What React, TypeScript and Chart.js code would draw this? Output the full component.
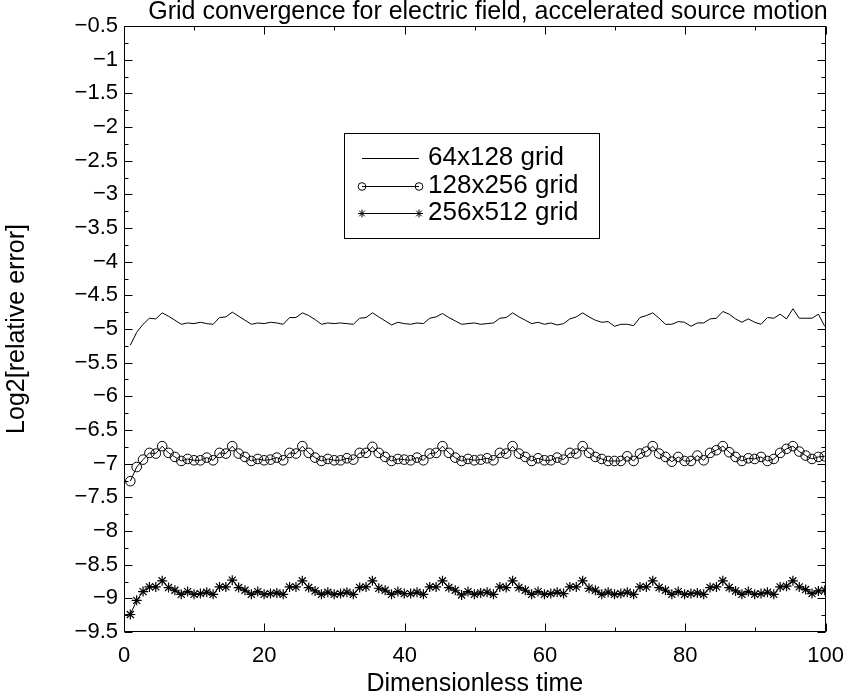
import React, { useEffect, useRef } from 'react';
import { Chart, registerables } from 'chart.js';

Chart.register(...registerables);

const TITLE = 'Grid convergence for electric field, accelerated source motion';
const X_LABEL = 'Dimensionless time';
const Y_LABEL = 'Log2[relative error]';
const SERIES_NAMES = ['64x128 grid', '128x256 grid', '256x512 grid'];

// sample times: uniform output grid of the simulation
const TIME_START = 0.9;
const TIME_STEP = 0.908;

const grid64 = [
  -5.24, -5.05, -4.93, -4.84, -4.85,
  -4.76, -4.81, -4.87, -4.93, -4.91, -4.92, -4.90, -4.92, -4.93, -4.83, -4.82,
  -4.75, -4.81, -4.87, -4.93, -4.91, -4.92, -4.90, -4.91, -4.93, -4.83, -4.83,
  -4.76, -4.80, -4.86, -4.93, -4.91, -4.92, -4.91, -4.92, -4.93, -4.84, -4.83,
  -4.76, -4.82, -4.88, -4.94, -4.90, -4.92, -4.93, -4.91, -4.92, -4.84, -4.82,
  -4.77, -4.83, -4.88, -4.93, -4.92, -4.91, -4.93, -4.92, -4.91, -4.84, -4.83,
  -4.76, -4.82, -4.87, -4.92, -4.90, -4.93, -4.91, -4.94, -4.92, -4.85, -4.82,
  -4.76, -4.82, -4.87, -4.90, -4.89, -4.96, -4.93, -4.93, -4.95, -4.83, -4.80,
  -4.76, -4.84, -4.93, -4.93, -4.89, -4.90, -4.96, -4.91, -4.91, -4.85, -4.84,
  -4.74, -4.78, -4.85, -4.90, -4.85, -4.90, -4.93, -4.83, -4.84, -4.78, -4.85,
  -4.70,
  -4.84, -4.84, -4.84, -4.78, -4.96,
];

const grid128 = [
  -7.26, -7.05, -6.94, -6.84, -6.85,
  -6.74, -6.84, -6.90, -6.96, -6.93, -6.95, -6.95, -6.91, -6.95, -6.84, -6.85,
  -6.74, -6.85, -6.90, -6.96, -6.93, -6.95, -6.94, -6.91, -6.95, -6.84, -6.85,
  -6.74, -6.84, -6.91, -6.96, -6.93, -6.95, -6.95, -6.92, -6.94, -6.84, -6.84,
  -6.75, -6.84, -6.90, -6.96, -6.93, -6.94, -6.95, -6.91, -6.95, -6.85, -6.84,
  -6.74, -6.84, -6.91, -6.96, -6.93, -6.95, -6.94, -6.92, -6.95, -6.84, -6.85,
  -6.74, -6.85, -6.90, -6.96, -6.92, -6.95, -6.95, -6.91, -6.94, -6.84, -6.85,
  -6.74, -6.84, -6.90, -6.93, -6.96, -6.96, -6.96, -6.89, -6.96, -6.85, -6.82,
  -6.74, -6.85, -6.90, -6.97, -6.90, -6.96, -6.96, -6.88, -6.95, -6.84, -6.80,
  -6.74, -6.83, -6.90, -6.96, -6.92, -6.93, -6.90, -6.96, -6.93, -6.84, -6.78,
  -6.74,
  -6.82, -6.88, -6.93, -6.90, -6.89,
];

const grid256 = [
  -9.24, -9.03, -8.90, -8.83, -8.83,
  -8.74, -8.84, -8.88, -8.94, -8.90, -8.94, -8.93, -8.91, -8.94, -8.83, -8.83,
  -8.73, -8.84, -8.88, -8.94, -8.90, -8.94, -8.93, -8.92, -8.94, -8.83, -8.83,
  -8.74, -8.84, -8.89, -8.94, -8.91, -8.94, -8.93, -8.91, -8.94, -8.84, -8.83,
  -8.74, -8.85, -8.88, -8.94, -8.90, -8.93, -8.93, -8.91, -8.94, -8.83, -8.83,
  -8.74, -8.84, -8.88, -8.95, -8.90, -8.94, -8.92, -8.91, -8.94, -8.83, -8.84,
  -8.74, -8.84, -8.88, -8.94, -8.90, -8.94, -8.93, -8.91, -8.93, -8.83, -8.83,
  -8.74, -8.85, -8.88, -8.94, -8.91, -8.94, -8.93, -8.91, -8.94, -8.83, -8.83,
  -8.74, -8.84, -8.88, -8.94, -8.90, -8.94, -8.93, -8.92, -8.94, -8.84, -8.83,
  -8.74, -8.84, -8.89, -8.94, -8.90, -8.94, -8.93, -8.91, -8.94, -8.83, -8.82,
  -8.74,
  -8.83, -8.87, -8.93, -8.89, -8.88,
];

const X_MIN = 0;
const X_MAX = 100;
const X_MAJOR = 20;
const X_MINOR = 10;
const Y_MIN = -9.5;
const Y_MAX = -0.5;
const Y_MAJOR = 0.5;
const Y_MINOR = 0.25;

const FONT = '"Liberation Sans", Arial, Helvetica, sans-serif';
const TICK_SIZE = 22;
const LABEL_SIZE = 25;
const LEGEND_SIZE = 26;

const toPoints = (vals: number[]) =>
  vals.map((v, i) => ({ x: TIME_START + i * TIME_STEP, y: v }));

const fmt = (v: number) => {
  const r = Math.round(v * 100) / 100;
  return (r < 0 ? '\u2212' : '') + String(Math.abs(r));
};

function drawMarker(ctx: CanvasRenderingContext2D, style: string, x: number, y: number, r: number) {
  if (style === 'circle') {
    ctx.beginPath();
    ctx.arc(x, y, r, 0, Math.PI * 2);
    ctx.stroke();
  } else if (style === 'star') {
    const d = r * Math.SQRT1_2;
    ctx.beginPath();
    ctx.moveTo(x, y - r); ctx.lineTo(x, y + r);
    ctx.moveTo(x - r, y); ctx.lineTo(x + r, y);
    ctx.moveTo(x - d, y - d); ctx.lineTo(x + d, y + d);
    ctx.moveTo(x - d, y + d); ctx.lineTo(x + d, y - d);
    ctx.stroke();
  }
}

const framePlugin = {
  id: 'frameTicksTitleLegend',
  afterDraw(chart: any) {
    const ctx: CanvasRenderingContext2D = chart.ctx;
    const { left, right, top, bottom } = chart.chartArea;
    const xs = chart.scales.x;
    const ys = chart.scales.y;
    ctx.save();
    ctx.strokeStyle = '#000';
    ctx.lineWidth = 1;
    const L = Math.round(left) + 0.5;
    const R = Math.round(right) - 0.5;
    const T = Math.round(top) + 0.5;
    const B = Math.round(bottom) - 0.5;
    ctx.strokeRect(L, T, R - L, B - T);
    ctx.beginPath();
    const ny = Math.round((Y_MAX - Y_MIN) / Y_MINOR);
    for (let i = 0; i <= ny; i++) {
      const v = Y_MIN + i * Y_MINOR;
      const major = Math.abs(v / Y_MAJOR - Math.round(v / Y_MAJOR)) < 1e-6;
      const len = major ? 8 : 4;
      const py = Math.round(ys.getPixelForValue(v)) + 0.5;
      ctx.moveTo(L, py); ctx.lineTo(L + len, py);
      ctx.moveTo(R, py); ctx.lineTo(R - len, py);
    }
    const nx = Math.round((X_MAX - X_MIN) / X_MINOR);
    for (let i = 0; i <= nx; i++) {
      const v = X_MIN + i * X_MINOR;
      const major = Math.abs(v / X_MAJOR - Math.round(v / X_MAJOR)) < 1e-6;
      const len = major ? 8 : 4;
      const px = Math.round(xs.getPixelForValue(v)) + 0.5;
      ctx.moveTo(px, B); ctx.lineTo(px, B - len);
      ctx.moveTo(px, T); ctx.lineTo(px, T + len);
    }
    ctx.stroke();

    // title
    ctx.fillStyle = '#000';
    ctx.font = `${LABEL_SIZE}px ${FONT}`;
    ctx.textAlign = 'center';
    ctx.textBaseline = 'middle';
    ctx.fillText(TITLE, 488, 12);

    // legend
    const bx = 344.5, by = 133.5, bw = 255, bh = 105;
    ctx.fillStyle = '#fff';
    ctx.fillRect(bx, by, bw, bh);
    ctx.strokeRect(bx, by, bw, bh);
    const rows = [158, 186, 213];
    ctx.font = `${LEGEND_SIZE}px ${FONT}`;
    chart.data.datasets.forEach((ds: any, i: number) => {
      const y = rows[i] + 0.5;
      ctx.strokeStyle = '#000';
      ctx.lineWidth = 1;
      ctx.beginPath();
      ctx.moveTo(362, y); ctx.lineTo(419, y);
      ctx.stroke();
      if (ds.pointRadius > 0) {
        drawMarker(ctx, ds.pointStyle, 362, y, ds.pointRadius * 0.8);
        drawMarker(ctx, ds.pointStyle, 419, y, ds.pointRadius * 0.8);
      }
      ctx.fillStyle = '#000';
      ctx.textAlign = 'left';
      ctx.textBaseline = 'middle';
      ctx.fillText(ds.label, 428, rows[i]);
    });
    ctx.restore();
  },
};

export default function App() {
  const ref = useRef<HTMLCanvasElement | null>(null);
  useEffect(() => {
    if (!ref.current) return;
    const chart = new Chart(ref.current, {
      type: 'line',
      data: {
        datasets: [
          {
            label: SERIES_NAMES[0],
            data: toPoints(grid64),
            borderColor: '#000',
            borderWidth: 1,
            pointRadius: 0,
            pointStyle: 'line',
            tension: 0,
          },
          {
            label: SERIES_NAMES[1],
            data: toPoints(grid128),
            borderColor: '#000',
            borderWidth: 1,
            pointRadius: 4.8,
            pointStyle: 'circle',
            pointBorderColor: '#000',
            pointBackgroundColor: 'rgba(0,0,0,0)',
            pointBorderWidth: 1,
            tension: 0,
          },
          {
            label: SERIES_NAMES[2],
            data: toPoints(grid256),
            borderColor: '#000',
            borderWidth: 1,
            pointRadius: 5,
            pointStyle: 'star',
            pointBorderColor: '#000',
            pointBackgroundColor: 'rgba(0,0,0,0)',
            pointBorderWidth: 1.2,
            tension: 0,
          },
        ] as any,
      },
      options: {
        animation: false,
        responsive: false,
        events: [],
        layout: { padding: { left: 0, right: 23, top: 26, bottom: 0 } },
        plugins: {
          legend: { display: false },
          tooltip: { enabled: false },
          title: { display: false },
        },
        scales: {
          x: {
            type: 'linear',
            min: X_MIN,
            max: X_MAX,
            grid: { display: false, drawTicks: false },
            border: { display: false },
            ticks: {
              stepSize: X_MAJOR,
              color: '#000',
              font: { family: FONT, size: TICK_SIZE, lineHeight: 1 },
              padding: 13,
              maxRotation: 0,
              autoSkip: false,
            },
            title: {
              display: true,
              text: X_LABEL,
              color: '#000',
              font: { family: FONT, size: LABEL_SIZE, lineHeight: 1 },
              padding: { top: 0, bottom: 3 },
            },
            afterFit: (s: any) => { s.height = 68; },
          },
          y: {
            type: 'linear',
            min: Y_MIN,
            max: Y_MAX,
            grid: { display: false, drawTicks: false },
            border: { display: false },
            ticks: {
              stepSize: Y_MAJOR,
              color: '#000',
              font: { family: FONT, size: TICK_SIZE, lineHeight: 1 },
              padding: 6,
              autoSkip: false,
              callback: (v: any) => fmt(Number(v)),
            },
            title: {
              display: true,
              text: Y_LABEL,
              color: '#000',
              font: { family: FONT, size: LABEL_SIZE, lineHeight: 1 },
              padding: { top: 5, bottom: 0 },
            },
            afterFit: (s: any) => { s.width = 124; },
          },
        },
      } as any,
      plugins: [framePlugin],
    });
    return () => chart.destroy();
  }, []);
  return (
    <div style={{ position: 'absolute', left: 0, top: 0, width: 857, height: 700, background: '#fff' }}>
      <canvas ref={ref} width={857} height={700} style={{ display: 'block' }} />
    </div>
  );
}
